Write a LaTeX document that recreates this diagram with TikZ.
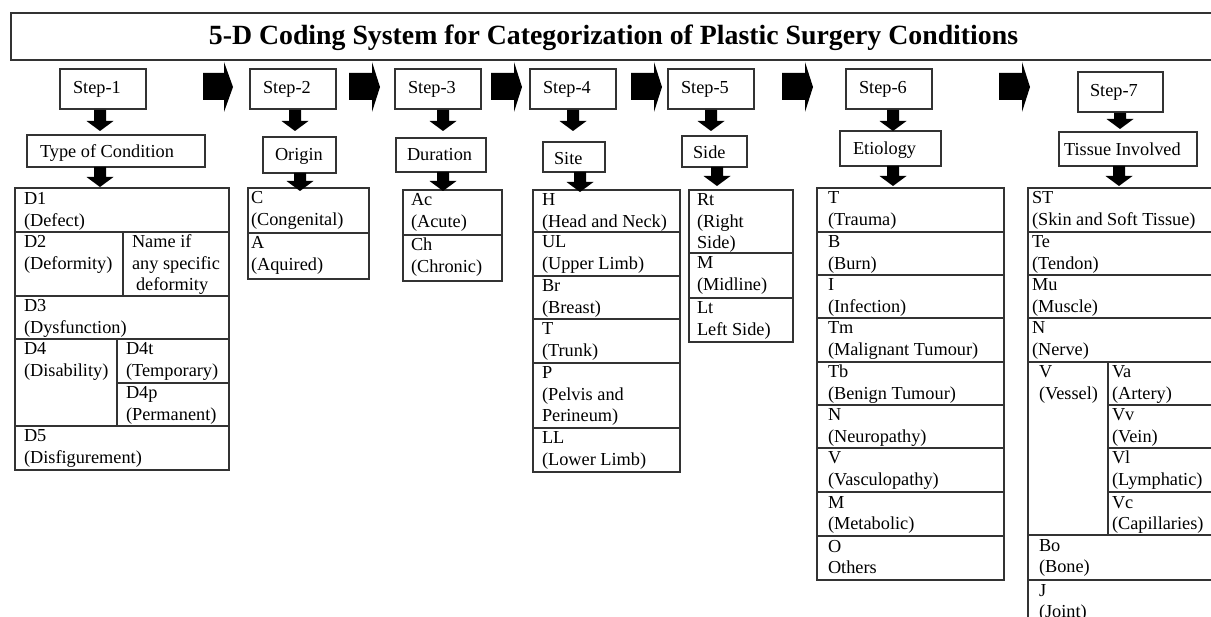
\documentclass[tikz,border=0pt]{standalone}
\usepackage{fontspec}
\setmainfont{Liberation Serif}
\tikzset{
  frame/.style={draw=black!80, line width=1.1pt, inner sep=0pt, outer sep=0pt, anchor=north west},
  txt/.style={inner sep=0pt, outer sep=0pt, anchor=base west, font=\fontsize{18.3}{21.5}\selectfont},
  ttl/.style={inner sep=0pt, outer sep=0pt, anchor=base, font=\bfseries\fontsize{27.8}{30}\selectfont},
}
\newcommand\bx[5]{\node[frame, minimum width={(#4-#2)*1pt}, minimum height={(#5-#3)*1pt}] (#1) at (#2,#3) {};}
\newcommand\tx[4]{\node[txt] (#1) at (#2,#3) {\begin{tabular}[t]{@{}l@{}}#4\end{tabular}};}
\newcommand\myrarr[3]{\fill (#1,73) -- (#2,73) -- (#2,62) -- (#3,87) -- (#2,112) -- (#2,100) -- (#1,100) -- cycle;}
\newcommand\mydarr[3]{\fill ({#1-6},#2) -- ({#1+6},#2) -- ({#1+6},{#3-10}) -- ({#1+13.5},{#3-10}) -- (#1,#3) -- ({#1-13.5},{#3-10}) -- ({#1-6},{#3-10}) -- cycle;}
\begin{document}
\begin{tikzpicture}[x=1pt,y=-1pt]
\useasboundingbox (0,0) rectangle (1211,617);
\clip (0,0) rectangle (1211,617);
% title
\bx{title}{11}{13}{1235}{60}
\node[ttl] (ttlt) at (613.5,44.5) {5-D Coding System for Categorization of Plastic Surgery Conditions};
% steps
\bx{s1}{60}{69}{146}{109} \tx{s1t}{73}{94}{Step-1}
\bx{s2}{250}{69}{336}{109} \tx{s2t}{263}{94}{Step-2}
\bx{s3}{395}{69}{481}{109} \tx{s3t}{408}{94}{Step-3}
\bx{s4}{530}{69}{616}{109} \tx{s4t}{543}{94}{Step-4}
\bx{s5}{668}{69}{754}{109} \tx{s5t}{681}{94}{Step-5}
\bx{s6}{846}{69}{932}{109} \tx{s6t}{859}{94}{Step-6}
\bx{s7}{1078}{72}{1163}{112} \tx{s7t}{1090}{97}{Step-7}
% labels
\bx{l1}{27}{135}{205}{167} \tx{l1t}{40}{158}{Type of Condition}
\bx{l2}{263}{137}{336}{173} \tx{l2t}{275}{161}{Origin}
\bx{l3}{396}{138}{486}{172} \tx{l3t}{407}{161}{Duration}
\bx{l4}{543}{142}{605}{172} \tx{l4t}{554}{165}{Site}
\bx{l5}{682}{136}{747}{167} \tx{l5t}{693}{159}{Side}
\bx{l6}{840}{131}{941}{166} \tx{l6t}{853}{155}{Etiology}
\bx{l7}{1059}{132}{1197}{166} \tx{l7t}{1064}{156}{Tissue Involved}
% D table
\bx{d1}{15}{188}{229}{232}
\bx{d2}{15}{232}{123}{296} \bx{d2n}{123}{232}{229}{296}
\bx{d3}{15}{296}{229}{339}
\bx{d4}{15}{339}{117}{426} \bx{d4a}{117}{339}{229}{383} \bx{d4b}{117}{383}{229}{426}
\bx{d5}{15}{426}{229}{470}
\tx{d1t}{24}{205}{D1\\(Defect)}
\tx{d2t}{24}{248}{D2\\(Deformity)}
\tx{d2nt}{132}{248}{Name if\\any specific\\\hspace*{4pt}deformity}
\tx{d3t}{24}{312}{D3\\(Dysfunction)}
\tx{d4t}{24}{355}{D4\\(Disability)}
\tx{d4at}{126}{355}{D4t\\(Temporary)}
\tx{d4bt}{126}{399}{D4p\\(Permanent)}
\tx{d5t}{24}{442}{D5\\(Disfigurement)}
% Origin table
\bx{o1}{248}{188}{369}{233} \bx{o2}{248}{233}{369}{279}
\tx{o1t}{251}{204}{C\\(Congenital)} \tx{o2t}{251}{249}{A\\(Aquired)}
% Duration table
\bx{u1}{403}{190}{502}{235} \bx{u2}{403}{235}{502}{281}
\tx{u1t}{411}{206}{Ac\\(Acute)} \tx{u2t}{411}{251}{Ch\\(Chronic)}
% Site table
\bx{t1}{533}{190}{680}{232} \bx{t2}{533}{232}{680}{276} \bx{t3}{533}{276}{680}{319}
\bx{t4}{533}{319}{680}{363} \bx{t5}{533}{363}{680}{428} \bx{t6}{533}{428}{680}{472}
\tx{t1t}{542}{206}{H\\(Head and Neck)}
\tx{t2t}{542}{248}{UL\\(Upper Limb)}
\tx{t3t}{542}{292}{Br\\(Breast)}
\tx{t4t}{542}{335}{T\\(Trunk)}
\tx{t5t}{542}{379}{P\\(Pelvis and\\Perineum)}
\tx{t6t}{542}{444}{LL\\(Lower Limb)}
% Side table
\bx{e1}{689}{190}{793}{253} \bx{e2}{689}{253}{793}{298} \bx{e3}{689}{298}{793}{342}
\tx{e1t}{697}{206}{Rt\\(Right\\Side)}
\tx{e2t}{697}{269}{M\\(Midline)}
\tx{e3t}{697}{314}{Lt\\Left Side)}
% Etiology table
\bx{g1}{817}{188}{1004}{232} \bx{g2}{817}{232}{1004}{275} \bx{g3}{817}{275}{1004}{318}
\bx{g4}{817}{318}{1004}{362} \bx{g5}{817}{362}{1004}{405} \bx{g6}{817}{405}{1004}{448}
\bx{g7}{817}{448}{1004}{492} \bx{g8}{817}{492}{1004}{536} \bx{g9}{817}{536}{1004}{580}
\tx{g1t}{828}{204}{T\\(Trauma)}
\tx{g2t}{828}{248}{B\\(Burn)}
\tx{g3t}{828}{291}{I\\(Infection)}
\tx{g4t}{828}{334}{Tm\\(Malignant Tumour)}
\tx{g5t}{828}{378}{Tb\\(Benign Tumour)}
\tx{g6t}{828}{421}{N\\(Neuropathy)}
\tx{g7t}{828}{464}{V\\(Vasculopathy)}
\tx{g8t}{828}{508}{M\\(Metabolic)}
\tx{g9t}{828}{552}{O\\Others}
% Tissue table
\bx{k1}{1028}{188}{1240}{232} \bx{k2}{1028}{232}{1240}{275} \bx{k3}{1028}{275}{1240}{318}
\bx{k4}{1028}{318}{1240}{362}
\bx{k5}{1028}{362}{1108}{535}
\bx{k5a}{1108}{362}{1240}{405} \bx{k5b}{1108}{405}{1240}{448} \bx{k5c}{1108}{448}{1240}{492} \bx{k5d}{1108}{492}{1240}{535}
\bx{k6}{1028}{535}{1240}{580} \bx{k7}{1028}{580}{1240}{640}
\tx{k1t}{1032}{204}{ST\\(Skin and Soft Tissue)}
\tx{k2t}{1032}{248}{Te\\(Tendon)}
\tx{k3t}{1032}{291}{Mu\\(Muscle)}
\tx{k4t}{1032}{334}{N\\(Nerve)}
\tx{k5t}{1039}{378}{V\\(Vessel)}
\tx{k5at}{1112}{378}{Va\\(Artery)}
\tx{k5bt}{1112}{421}{Vv\\(Vein)}
\tx{k5ct}{1112}{464}{Vl\\(Lymphatic)}
\tx{k5dt}{1112}{508}{Vc\\(Capillaries)}
\tx{k6t}{1039}{551}{Bo\\(Bone)}
\tx{k7t}{1039}{596}{J\\(Joint)}
% arrows
\myrarr{203}{224}{233}
\myrarr{349}{372}{380}
\myrarr{491}{514}{522}
\myrarr{631}{654}{662}
\myrarr{782}{805}{813}
\myrarr{999}{1022}{1030}
\mydarr{100}{110}{131} \mydarr{295}{110}{131} \mydarr{443}{110}{131} \mydarr{573}{110}{131}
\mydarr{711}{110}{131} \mydarr{893}{110}{131} \mydarr{1120}{113}{129}
\mydarr{100}{167}{187} \mydarr{300}{173}{191} \mydarr{443}{172}{191} \mydarr{580}{172}{192}
\mydarr{717}{167}{186} \mydarr{893}{166}{186} \mydarr{1119}{166}{186}
\end{tikzpicture}
\end{document}
